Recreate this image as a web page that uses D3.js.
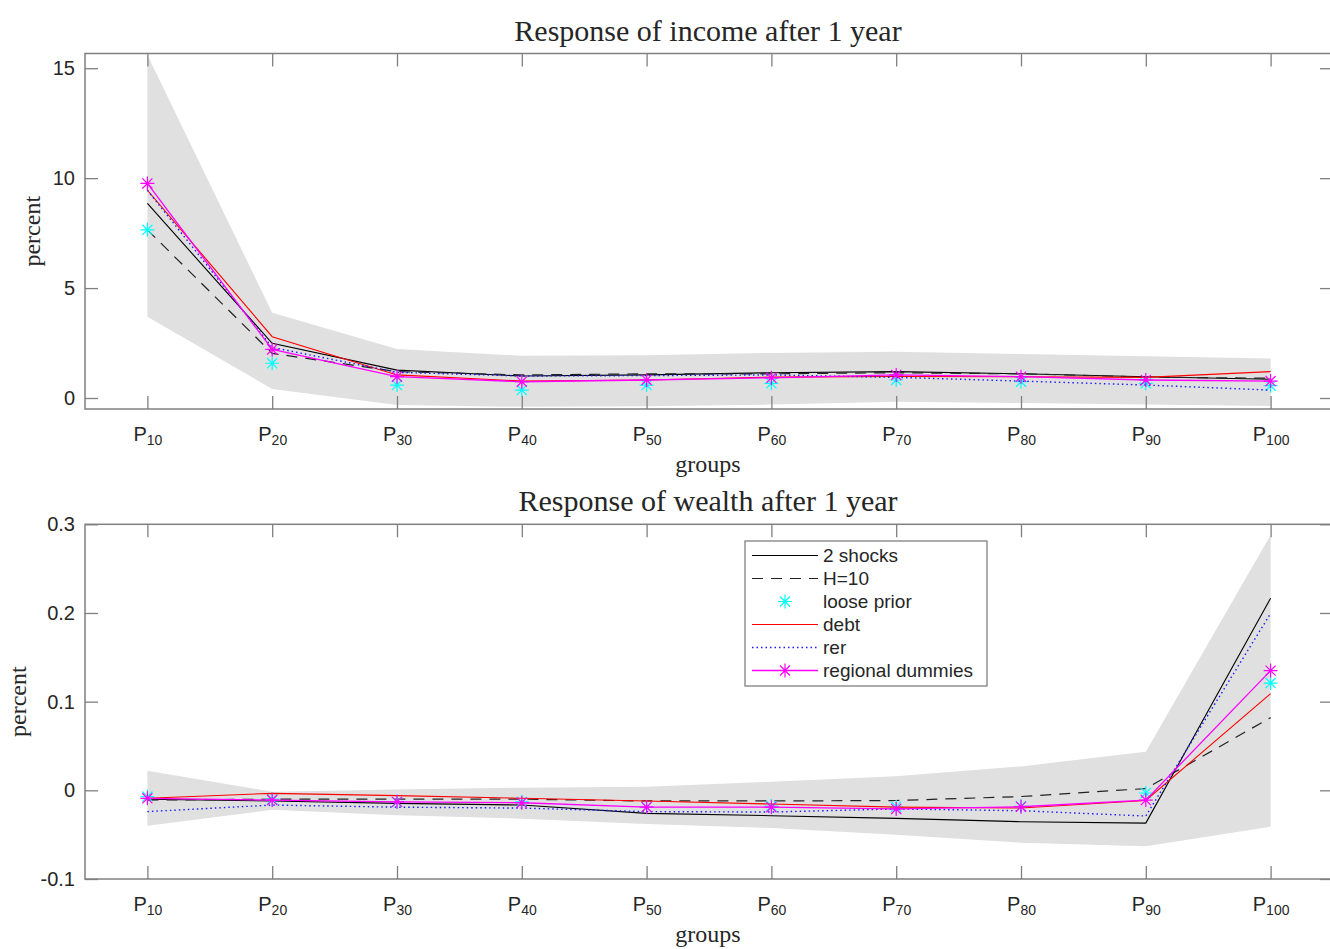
<!DOCTYPE html>
<html>
<head>
<meta charset="utf-8">
<script src="https://cdn.jsdelivr.net/npm/d3@7"></script>
<style>
  body { margin: 0; background: #fff; }
  svg  { display: block; }
</style>
</head>
<body>
<svg id="chart" width="1330" height="949"></svg>
<script>
/* ---------- data ---------- */
const GROUPS = ['10','20','30','40','50','60','70','80','90','100'];

// income, percent
const incomeBandHi  = [15.6, 3.88, 2.23, 1.92, 1.95, 2.05, 2.1, 2.0, 1.9, 1.8];
const incomeBandLo  = [3.7, 0.41, -0.32, -0.4, -0.38, -0.3, -0.17, -0.23, -0.3, -0.36];
const income2Shocks = [8.85, 2.49, 1.27, 1.0, 1.05, 1.15, 1.2, 1.1, 0.97, 0.85];
const incomeH10     = [7.65, 2.03, 1.2, 1.05, 1.1, 1.1, 1.15, 1.1, 0.95, 0.9];
const incomeLoose   = [7.65, 1.58, 0.59, 0.36, 0.59, 0.67, 0.82, 0.74, 0.67, 0.56];
const incomeDebt    = [9.45, 2.79, 1.05, 0.77, 0.82, 0.95, 0.98, 0.97, 0.94, 1.2];
const incomeRer     = [9.45, 2.3, 1.17, 1.0, 1.02, 1.05, 0.94, 0.77, 0.59, 0.36];
const incomeRegion  = [9.76, 2.21, 0.97, 0.74, 0.82, 0.92, 1.05, 0.97, 0.82, 0.77];

// wealth, percent
const wealthBandHi  = [0.022, -0.0015, 0.001, 0.003, 0.004, 0.0097, 0.016, 0.027, 0.0435, 0.288];
const wealthBandLo  = [-0.040, -0.022, -0.028, -0.032, -0.038, -0.0425, -0.050, -0.059, -0.063, -0.041];
const wealth2Shocks = [-0.010, -0.012, -0.0147, -0.0166, -0.026, -0.0286, -0.0316, -0.0354, -0.037, 0.2165];
const wealthH10     = [-0.011, -0.010, -0.010, -0.010, -0.012, -0.012, -0.0115, -0.007, 0.002, 0.082];
const wealthLoose   = [-0.007, -0.010, -0.013, -0.013, -0.019, -0.0177, -0.0185, -0.018, -0.003, 0.121];
const wealthDebt    = [-0.009, -0.0034, -0.006, -0.009, -0.012, -0.0155, -0.019, -0.020, -0.0115, 0.109];
const wealthRer     = [-0.024, -0.0166, -0.019, -0.020, -0.024, -0.0245, -0.021, -0.023, -0.029, 0.1995];
const wealthRegion  = [-0.009, -0.011, -0.013, -0.014, -0.019, -0.019, -0.021, -0.0185, -0.011, 0.135];

const SERIES_NAMES = ['2 shocks', 'H=10', 'loose prior', 'debt', 'rer', 'regional dummies'];

/* ---------- styles per series ---------- */
const STYLE = {
  '2 shocks'        : { stroke: '#000',    dash: null,    width: 1.1, marker: null },
  'H=10'            : { stroke: '#222',    dash: '11,8',  width: 1.2, marker: null },
  'loose prior'     : { stroke: null,      dash: null,    width: 0,   marker: '#00ffff' },
  'debt'            : { stroke: '#ff0000', dash: null,    width: 1.1, marker: null },
  'rer'             : { stroke: '#1a1aff', dash: '1.5,3', width: 1.4, marker: null },
  'regional dummies': { stroke: '#ff00ff', dash: null,    width: 1.3, marker: '#ff00ff' }
};

const svg = d3.select('#chart');
const AXIS_COL = '#808080', TEXT_COL = '#262626';
const LEFT = 85, RIGHT = 1333;

const x = d3.scaleLinear().domain([0.5, 10.5]).range([LEFT, RIGHT]);

// asterisk marker (MATLAB '*')
function star(r) {
  const d = r * 0.72;
  return `M${-r},0L${r},0M0,${-r}L0,${r}M${-d},${-d}L${d},${d}M${-d},${d}L${d},${-d}`;
}

function panel(o) {
  const y = d3.scaleLinear().domain(o.yDomain).range([o.bottom, o.top]);
  const g = svg.append('g');

  /* confidence band */
  const area = d3.area()
    .x((d, i) => x(i + 1))
    .y0((d, i) => y(o.lo[i]))
    .y1(d => y(d));
  g.append('path').datum(o.hi)
    .attr('d', area)
    .attr('fill', '#e0e0e0');

  /* lines */
  const line = d3.line().x((d, i) => x(i + 1)).y(d => y(d));
  o.series.forEach((vals, k) => {
    const s = STYLE[SERIES_NAMES[k]];
    if (s.stroke) {
      g.append('path').datum(vals)
        .attr('d', line)
        .attr('fill', 'none')
        .attr('stroke', s.stroke)
        .attr('stroke-width', s.width)
        .attr('stroke-dasharray', s.dash);
    }
    if (s.marker) {
      g.append('g').selectAll('path')
        .data(vals)
        .join('path')
          .attr('transform', (d, i) => `translate(${x(i + 1)},${y(d)})`)
          .attr('d', star(7))
          .attr('stroke', s.marker)
          .attr('stroke-width', 1.2)
          .attr('fill', 'none');
    }
  });

  /* axes: ticks on all four sides, pointing inward */
  const idx = d3.range(1, 11);
  const xb = g.append('g')
    .attr('transform', `translate(0,${o.bottom})`)
    .call(d3.axisBottom(x).tickValues(idx).tickSizeInner(-13).tickSizeOuter(0)
      .tickPadding(0).tickFormat(''));
  g.append('g')
    .attr('transform', `translate(0,${o.top})`)
    .call(d3.axisTop(x).tickValues(idx).tickSizeInner(-13).tickSizeOuter(0).tickFormat(''));
  const yl = g.append('g')
    .attr('transform', `translate(${LEFT},0)`)
    .call(d3.axisLeft(y).tickValues(o.yTicks).tickSizeInner(-13).tickSizeOuter(0)
      .tickPadding(10).tickFormat(o.fmt));
  g.append('g')
    .attr('transform', `translate(${RIGHT},0)`)
    .call(d3.axisRight(y).tickValues(o.yTicks).tickSizeInner(-13).tickSizeOuter(0).tickFormat(''));

  g.selectAll('.domain').remove();
  g.selectAll('.tick line').attr('stroke', AXIS_COL).attr('stroke-width', 1.3);

  yl.selectAll('text')
    .attr('font-family', 'Liberation Sans, Arial, sans-serif')
    .attr('font-size', 20)
    .attr('fill', TEXT_COL);

  // P with subscript
  xb.selectAll('.tick').append('text')
    .attr('y', 32)
    .attr('text-anchor', 'middle')
    .attr('font-family', 'Liberation Sans, Arial, sans-serif')
    .attr('fill', TEXT_COL)
    .each(function (d) {
      const t = d3.select(this);
      t.append('tspan').attr('font-size', 20).text('P');
      t.append('tspan').attr('font-size', 14).attr('dy', 4).text(GROUPS[d - 1]);
    });

  /* box */
  g.append('rect')
    .attr('x', LEFT).attr('y', o.top)
    .attr('width', RIGHT - LEFT).attr('height', o.bottom - o.top)
    .attr('fill', 'none')
    .attr('stroke', AXIS_COL)
    .attr('stroke-width', 1.5);

  /* titles */
  g.append('text')
    .attr('x', (LEFT + RIGHT) / 2 - 1).attr('y', o.top - 13)
    .attr('text-anchor', 'middle')
    .attr('font-family', 'Liberation Serif, Times New Roman, serif')
    .attr('font-size', 30)
    .attr('fill', TEXT_COL)
    .text(o.title);
  g.append('text')
    .attr('x', (LEFT + RIGHT) / 2 - 1).attr('y', o.bottom + 63)
    .attr('text-anchor', 'middle')
    .attr('font-family', 'Liberation Serif, Times New Roman, serif')
    .attr('font-size', 24)
    .attr('fill', TEXT_COL)
    .text('groups');
  g.append('text')
    .attr('transform', `translate(${o.ylabX},${(o.top + o.bottom) / 2}) rotate(-90)`)
    .attr('text-anchor', 'middle')
    .attr('font-family', 'Liberation Serif, Times New Roman, serif')
    .attr('font-size', 24)
    .attr('fill', TEXT_COL)
    .text('percent');

  return g;
}

panel({
  top: 53.5, bottom: 409, yDomain: [-0.5, 15.67],
  yTicks: [0, 5, 10, 15], fmt: d3.format('d'),
  lo: incomeBandLo, hi: incomeBandHi,
  series: [income2Shocks, incomeH10, incomeLoose, incomeDebt, incomeRer, incomeRegion],
  title: 'Response of income after 1 year', ylabX: 40
});

panel({
  top: 524.3, bottom: 879, yDomain: [-0.1, 0.3],
  yTicks: [-0.1, 0, 0.1, 0.2, 0.3],
  fmt: d => d === 0 ? '0' : d3.format('.1f')(d).replace('\u2212', '-'),
  lo: wealthBandLo, hi: wealthBandHi,
  series: [wealth2Shocks, wealthH10, wealthLoose, wealthDebt, wealthRer, wealthRegion],
  title: 'Response of wealth after 1 year', ylabX: 26
});

/* ---------- legend ---------- */
const leg = svg.append('g').attr('transform', 'translate(745,541)');
leg.append('rect')
  .attr('width', 242).attr('height', 145)
  .attr('fill', '#fff')
  .attr('stroke', AXIS_COL)
  .attr('stroke-width', 1.3);

const row = leg.selectAll('g.row')
  .data(SERIES_NAMES)
  .join('g')
    .attr('class', 'row')
    .attr('transform', (d, i) => `translate(0,${14.5 + i * 23})`);

row.each(function (name) {
  const s = STYLE[name], r = d3.select(this);
  if (s.stroke) {
    r.append('line')
      .attr('x1', 7).attr('x2', 73)
      .attr('stroke', s.stroke)
      .attr('stroke-width', s.width)
      .attr('stroke-dasharray', s.dash);
  }
  if (s.marker) {
    r.append('path')
      .attr('transform', 'translate(40,0)')
      .attr('d', star(7))
      .attr('stroke', s.marker)
      .attr('stroke-width', 1.2)
      .attr('fill', 'none');
  }
  r.append('text')
    .attr('x', 78).attr('dy', '0.35em')
    .attr('font-family', 'Liberation Sans, Arial, sans-serif')
    .attr('font-size', 19)
    .attr('fill', TEXT_COL)
    .text(name);
});
</script>
</body>
</html>
